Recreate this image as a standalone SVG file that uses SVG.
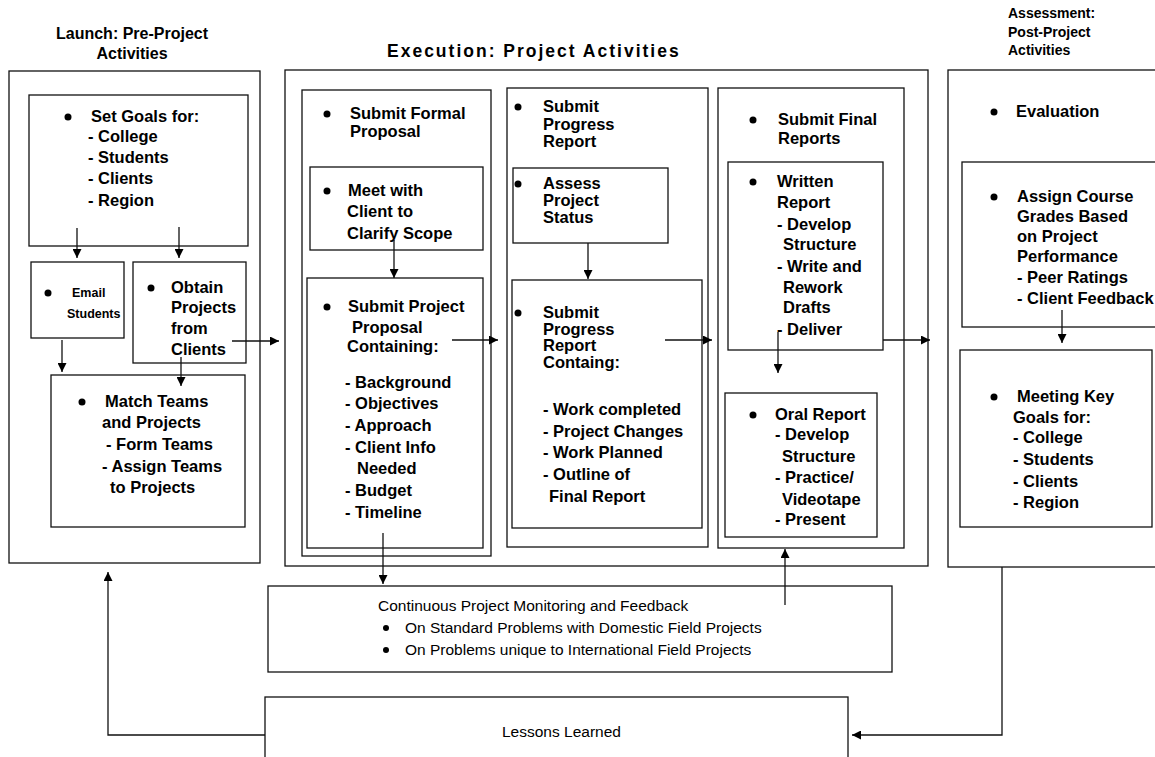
<svg xmlns="http://www.w3.org/2000/svg" width="1155" height="757" viewBox="0 0 1155 757">
<defs>
<marker id="ah" viewBox="0 0 10 10" refX="10" refY="5" markerWidth="9" markerHeight="9" markerUnits="userSpaceOnUse" orient="auto"><path d="M0,0 L10,5 L0,10 z" fill="#000"/></marker>
</defs>
<style>
.box{fill:none;stroke:#111;stroke-width:1.3}
.t{font-family:"Liberation Sans",Arial,sans-serif;font-weight:bold;font-size:16.5px;fill:#000}
.s{font-family:"Liberation Sans",Arial,sans-serif;font-weight:bold;font-size:12.5px;fill:#000}
.r{font-family:"Liberation Sans",Arial,sans-serif;font-size:15.5px;fill:#000}
.h{font-family:"Liberation Sans",Arial,sans-serif;font-weight:bold;font-size:16px;fill:#000}
.ha{font-family:"Liberation Sans",Arial,sans-serif;font-weight:bold;font-size:14px;fill:#000}
.c{fill:none;stroke:#111;stroke-width:1.3;marker-end:url(#ah)}
.b{fill:#000}
</style>
<rect width="1155" height="757" fill="#fff"/>

<g id="launch">
<text class="h" x="132" y="39" text-anchor="middle">Launch:  Pre-Project</text>
<text class="h" x="132" y="59" text-anchor="middle">Activities</text>
<rect class="box" x="9" y="71" width="251" height="492"/>
</g>
<g id="setgoals">
<rect class="box" x="29" y="95" width="219" height="151"/>
<circle class="b" cx="68" cy="117" r="3.5"/>
<text class="t" x="91" y="122">Set Goals for:</text>
<text class="t" x="88" y="142">- College</text>
<text class="t" x="88" y="163">- Students</text>
<text class="t" x="88" y="184">- Clients</text>
<text class="t" x="88" y="206">- Region</text>
</g>
<g id="email">
<rect class="box" x="31" y="262" width="93" height="76"/>
<circle class="b" cx="48" cy="293" r="3.5"/>
<text class="s" x="72" y="297">Email</text>
<text class="s" x="67" y="318">Students</text>
</g>
<g id="obtain">
<rect class="box" x="133" y="262" width="113" height="101"/>
<circle class="b" cx="151" cy="288" r="3.5"/>
<text class="t" x="171" y="293">Obtain</text>
<text class="t" x="171" y="313">Projects</text>
<text class="t" x="171" y="334">from</text>
<text class="t" x="171" y="355">Clients</text>
</g>
<g id="match">
<rect class="box" x="51" y="375" width="194" height="152"/>
<circle class="b" cx="82" cy="402" r="3.5"/>
<text class="t" x="105" y="407">Match Teams</text>
<text class="t" x="102" y="428">and Projects</text>
<text class="t" x="106" y="450">- Form Teams</text>
<text class="t" x="102" y="472">- Assign Teams</text>
<text class="t" x="110" y="493">to Projects</text>
</g>

<g id="execution">
<text class="h" x="387" y="57" style="font-size:17.5px;letter-spacing:2px">Execution:  Project Activities</text>
<rect class="box" x="285" y="70" width="643" height="496"/>
</g>
<g id="formal">
<rect class="box" x="302" y="90" width="189" height="466"/>
<circle class="b" cx="327" cy="114" r="3.5"/>
<text class="t" x="350" y="119">Submit Formal</text>
<text class="t" x="350" y="137">Proposal</text>
</g>
<g id="meet">
<rect class="box" x="310" y="167" width="173" height="83"/>
<circle class="b" cx="327" cy="191" r="3.5"/>
<text class="t" x="348" y="196">Meet with</text>
<text class="t" x="347" y="217">Client to</text>
<text class="t" x="347" y="239">Clarify Scope</text>
</g>
<g id="proposal">
<rect class="box" x="307" y="278" width="176" height="270"/>
<circle class="b" cx="327" cy="307" r="3.5"/>
<text class="t" x="348" y="312">Submit Project</text>
<text class="t" x="352" y="333">Proposal</text>
<text class="t" x="347" y="352">Containing:</text>
<text class="t" x="345" y="388">- Background</text>
<text class="t" x="345" y="409">- Objectives</text>
<text class="t" x="345" y="431">- Approach</text>
<text class="t" x="345" y="453">- Client Info</text>
<text class="t" x="357" y="474">Needed</text>
<text class="t" x="345" y="496">- Budget</text>
<text class="t" x="345" y="518">- Timeline</text>
</g>
<g id="progress">
<rect class="box" x="507" y="88" width="201" height="459"/>
<circle class="b" cx="518" cy="107" r="3.5"/>
<text class="t" x="543" y="112">Submit</text>
<text class="t" x="543" y="130">Progress</text>
<text class="t" x="543" y="147">Report</text>
</g>
<g id="assess">
<rect class="box" x="513" y="168" width="155" height="75"/>
<circle class="b" cx="518" cy="184" r="3.5"/>
<text class="t" x="543" y="189">Assess</text>
<text class="t" x="543" y="206">Project</text>
<text class="t" x="543" y="223">Status</text>
</g>
<g id="progressreport">
<rect class="box" x="512" y="280" width="190" height="248"/>
<circle class="b" cx="518" cy="313" r="3.5"/>
<text class="t" x="543" y="318">Submit</text>
<text class="t" x="543" y="335">Progress</text>
<text class="t" x="543" y="351">Report</text>
<text class="t" x="543" y="368">Containg:</text>
<text class="t" x="543" y="415">- Work completed</text>
<text class="t" x="543" y="437">- Project Changes</text>
<text class="t" x="543" y="458">- Work Planned</text>
<text class="t" x="543" y="480">- Outline of</text>
<text class="t" x="549" y="502">Final Report</text>
</g>
<g id="final">
<rect class="box" x="718" y="88" width="186" height="460"/>
<circle class="b" cx="753" cy="120" r="3.5"/>
<text class="t" x="778" y="125">Submit Final</text>
<text class="t" x="778" y="144">Reports</text>
</g>
<g id="written">
<rect class="box" x="728" y="162" width="155" height="188"/>
<circle class="b" cx="753" cy="182" r="3.5"/>
<text class="t" x="777" y="187">Written</text>
<text class="t" x="777" y="208">Report</text>
<text class="t" x="777" y="230">- Develop</text>
<text class="t" x="783" y="250">Structure</text>
<text class="t" x="777" y="272">- Write and</text>
<text class="t" x="783" y="293">Rework</text>
<text class="t" x="783" y="313">Drafts</text>
<text class="t" x="777" y="335">- Deliver</text>
</g>
<g id="oral">
<rect class="box" x="725" y="393" width="152" height="144"/>
<circle class="b" cx="753" cy="415" r="3.5"/>
<text class="t" x="775" y="420">Oral Report</text>
<text class="t" x="775" y="440">- Develop</text>
<text class="t" x="782" y="462">Structure</text>
<text class="t" x="775" y="483">- Practice/</text>
<text class="t" x="782" y="505">Videotape</text>
<text class="t" x="775" y="525">- Present</text>
</g>

<g id="assessment">
<text class="ha" x="1008" y="18">Assessment:</text>
<text class="ha" x="1008" y="37">Post-Project</text>
<text class="ha" x="1008" y="55">Activities</text>
<rect class="box" x="948" y="70" width="220" height="497"/>
<circle class="b" cx="994" cy="112" r="3.5"/>
<text class="t" x="1016" y="117">Evaluation</text>
</g>
<g id="grades">
<rect class="box" x="962" y="162" width="206" height="165"/>
<circle class="b" cx="994" cy="197" r="3.5"/>
<text class="t" x="1017" y="202">Assign Course</text>
<text class="t" x="1017" y="222">Grades Based</text>
<text class="t" x="1017" y="242">on Project</text>
<text class="t" x="1017" y="262">Performance</text>
<text class="t" x="1017" y="283">- Peer Ratings</text>
<text class="t" x="1017" y="304">- Client Feedback</text>
</g>
<g id="meeting">
<rect class="box" x="960" y="350" width="192" height="177"/>
<circle class="b" cx="994" cy="397" r="3.5"/>
<text class="t" x="1017" y="402">Meeting Key</text>
<text class="t" x="1013" y="423">Goals for:</text>
<text class="t" x="1013" y="443">- College</text>
<text class="t" x="1013" y="465">- Students</text>
<text class="t" x="1013" y="487">- Clients</text>
<text class="t" x="1013" y="508">- Region</text>
</g>

<g id="monitoring">
<rect class="box" x="268" y="586" width="624" height="86"/>
<text class="r" x="378" y="611">Continuous Project Monitoring and Feedback</text>
<circle class="b" cx="386" cy="628" r="3"/>
<text class="r" x="405" y="633">On Standard Problems with Domestic Field Projects</text>
<circle class="b" cx="386" cy="650" r="3"/>
<text class="r" x="405" y="655">On Problems unique to International Field Projects</text>
</g>
<g id="lessons">
<rect class="box" x="265" y="697" width="583" height="80"/>
<text class="r" x="502" y="737">Lessons Learned</text>
</g>

<g id="connectors">
<path class="c" d="M77,228 V258"/>
<path class="c" d="M179,227 V258"/>
<path class="c" d="M62,340 V372"/>
<path class="c" d="M181,357 V386"/>
<path class="c" d="M232,341 H279"/>
<path class="c" d="M394,240 V278"/>
<path class="c" d="M452,340 H498"/>
<path class="c" d="M383,533 V584"/>
<path class="c" d="M588,243 V279"/>
<path class="c" d="M665,340 H712"/>
<path class="c" d="M778,332 V373"/>
<path class="c" d="M883,340 H930"/>
<path class="c" d="M785,605 V549"/>
<path class="c" d="M1062,310 V343"/>
<path class="c" d="M265,735 H108 V572"/>
<path class="c" d="M1002,567 V735 H852"/>
</g>
</svg>
